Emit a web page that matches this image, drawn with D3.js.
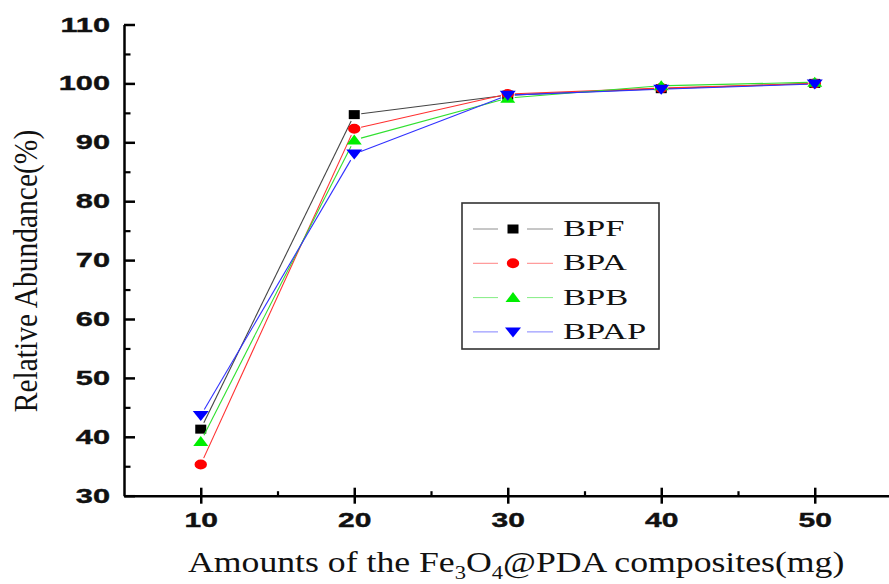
<!DOCTYPE html>
<html>
<head>
<meta charset="utf-8">
<script src="https://cdn.jsdelivr.net/npm/d3@7"></script>
<style>
  html, body { margin: 0; padding: 0; background: #fff; }
  svg { display: block; }
</style>
</head>
<body>
<svg id="chart" width="889" height="584"></svg>
<script>
// ---- data ----
const amounts = [10, 20, 30, 40, 50];
const BPF  = [41.3, 94.7, 98.0, 99.1, 100.0];
const BPA  = [35.3, 92.3, 98.2, 99.2, 100.0];
const BPB  = [39.2, 90.4, 97.5, 99.6, 100.2];
const BPAP = [43.6, 88.0, 98.0, 99.0, 99.9];
const seriesNames = ["BPF", "BPA", "BPB", "BPAP"];
const xTicks = [10, 20, 30, 40, 50];
const xMinorTicks = [15, 25, 35, 45];
const yTicks = [30, 40, 50, 60, 70, 80, 90, 100, 110];
const yMinorTicks = [35, 45, 55, 65, 75, 85, 95, 105];

const seriesValues = [BPF, BPA, BPB, BPAP];
const colors = ["#000000", "#ff0000", "#00ee00", "#0000ff"];
const lineColors = ["#444444", "#ff3030", "#30e030", "#3030ff"];
const shapes = ["square", "circle", "triUp", "triDown"];

const svg = d3.select("#chart");
const x = d3.scaleLinear().domain([5, 55]).range([124, 891.5]);
const y = d3.scaleLinear().domain([30, 110]).range([495.7, 24.5]);

function shapePath(shape, cx, cy) {
  switch (shape) {
    case "square": return `M${cx-5.5},${cy-4.5}h11v9h-11Z`;
    case "circle": {
      const rx = 6.2, ry = 5;
      return `M${cx-rx},${cy}a${rx},${ry} 0 1,0 ${2*rx},0a${rx},${ry} 0 1,0 ${-2*rx},0Z`;
    }
    case "triUp": return `M${cx},${cy-5.5}L${cx+7.5},${cy+4.5}L${cx-7.5},${cy+4.5}Z`;
    case "triDown": return `M${cx},${cy+5.5}L${cx+8},${cy-4.5}L${cx-8},${cy-4.5}Z`;
  }
}

// ---- axes ----
const tickFont = "'Liberation Sans', Arial, sans-serif";
const sx = 1.5;

const yAxis = svg.append("g").attr("transform", `translate(${x(5)},0)`)
  .call(d3.axisLeft(y).tickValues(yTicks).tickSize(-11).tickSizeOuter(0).tickPadding(14));
yAxis.select(".domain").attr("stroke-width", 2.5);
yAxis.selectAll(".tick line").attr("stroke-width", 2.5);
yAxis.selectAll(".tick text")
  .attr("font-family", tickFont).attr("font-weight", "bold").attr("font-size", 20.5)
  .attr("fill", "#111").attr("stroke", "#111").attr("stroke-width", 0.4)
  .attr("x", -14 / sx).attr("transform", `scale(${sx},1)`);
const yMinor = svg.append("g").attr("transform", `translate(${x(5)},0)`)
  .call(d3.axisLeft(y).tickValues(yMinorTicks).tickSize(-6.5).tickSizeOuter(0).tickFormat(""));
yMinor.select(".domain").remove();
yMinor.selectAll(".tick line").attr("stroke-width", 2.2);

const xAxis = svg.append("g").attr("transform", `translate(0,${y(30)})`)
  .call(d3.axisBottom(x).tickValues(xTicks).tickSize(8).tickSizeOuter(0).tickPadding(9));
xAxis.select(".domain").attr("stroke-width", 2.5);
xAxis.selectAll(".tick line").attr("stroke-width", 2.5).attr("y1", -8);
xAxis.selectAll(".tick text")
  .attr("font-family", tickFont).attr("font-weight", "bold").attr("font-size", 20)
  .attr("fill", "#111").attr("stroke", "#111").attr("stroke-width", 0.4)
  .attr("transform", `scale(${sx},1)`);
const xMinor = svg.append("g").attr("transform", `translate(0,${y(30)})`)
  .call(d3.axisBottom(x).tickValues(xMinorTicks).tickSize(-4.5).tickSizeOuter(0).tickFormat(""));
xMinor.select(".domain").remove();
xMinor.selectAll(".tick line").attr("stroke-width", 2.2);

// ---- axis titles ----
const serif = "'Liberation Serif', 'Times New Roman', serif";
const xt = svg.append("text")
  .attr("transform", "translate(188,571.5) scale(1.19,1)")
  .attr("font-family", serif).attr("font-size", 30).attr("fill", "#111");
xt.append("tspan").text("Amounts of the Fe");
xt.append("tspan").attr("font-size", 19).attr("dy", 7).text("3");
xt.append("tspan").attr("dy", -7).text("O");
xt.append("tspan").attr("font-size", 19).attr("dy", 7).text("4");
xt.append("tspan").attr("dy", -7).text("@PDA composites(mg)");

svg.append("text")
  .attr("transform", "translate(37,271) rotate(-90) scale(1,1.13)")
  .attr("text-anchor", "middle")
  .attr("font-family", serif).attr("font-size", 29.5).attr("fill", "#111")
  .text("Relative Abundance(%)");

// ---- series ----
const gap = 7;
seriesValues.forEach((vals, si) => {
  const g = svg.append("g");
  const pts = amounts.map((a, i) => [x(a), y(vals[i])]);
  for (let i = 0; i < pts.length - 1; i++) {
    const [x1, y1] = pts[i], [x2, y2] = pts[i + 1];
    const dx = x2 - x1, dy = y2 - y1, L = Math.hypot(dx, dy);
    const ux = dx / L, uy = dy / L;
    g.append("line")
      .attr("x1", x1 + ux * gap).attr("y1", y1 + uy * gap)
      .attr("x2", x2 - ux * gap).attr("y2", y2 - uy * gap)
      .attr("stroke", lineColors[si]).attr("stroke-width", 1.1);
  }
  g.selectAll("path.m").data(pts).join("path").attr("class", "m")
    .attr("d", d => shapePath(shapes[si], d[0], d[1]))
    .attr("fill", colors[si]);
});

// ---- legend ----
const leg = svg.append("g");
leg.append("rect").attr("x", 462).attr("y", 203).attr("width", 197).attr("height", 146)
  .attr("fill", "#fff").attr("stroke", "#333").attr("stroke-width", 1.6);
seriesNames.forEach((name, i) => {
  const cy = 229 + i * 34.3;
  leg.append("line").attr("x1", 473).attr("x2", 498).attr("y1", cy).attr("y2", cy)
    .attr("stroke", lineColors[i]).attr("stroke-width", 1).attr("stroke-opacity", 0.6);
  leg.append("line").attr("x1", 527).attr("x2", 553).attr("y1", cy).attr("y2", cy)
    .attr("stroke", lineColors[i]).attr("stroke-width", 1).attr("stroke-opacity", 0.6);
  leg.append("path").attr("d", shapePath(shapes[i], 513, cy)).attr("fill", colors[i]);
  leg.append("text")
    .attr("transform", `translate(563,${cy + 7}) scale(1.5,1)`)
    .attr("font-family", serif).attr("font-size", 23).attr("fill", "#111")
    .text(name);
});
</script>
</body>
</html>
